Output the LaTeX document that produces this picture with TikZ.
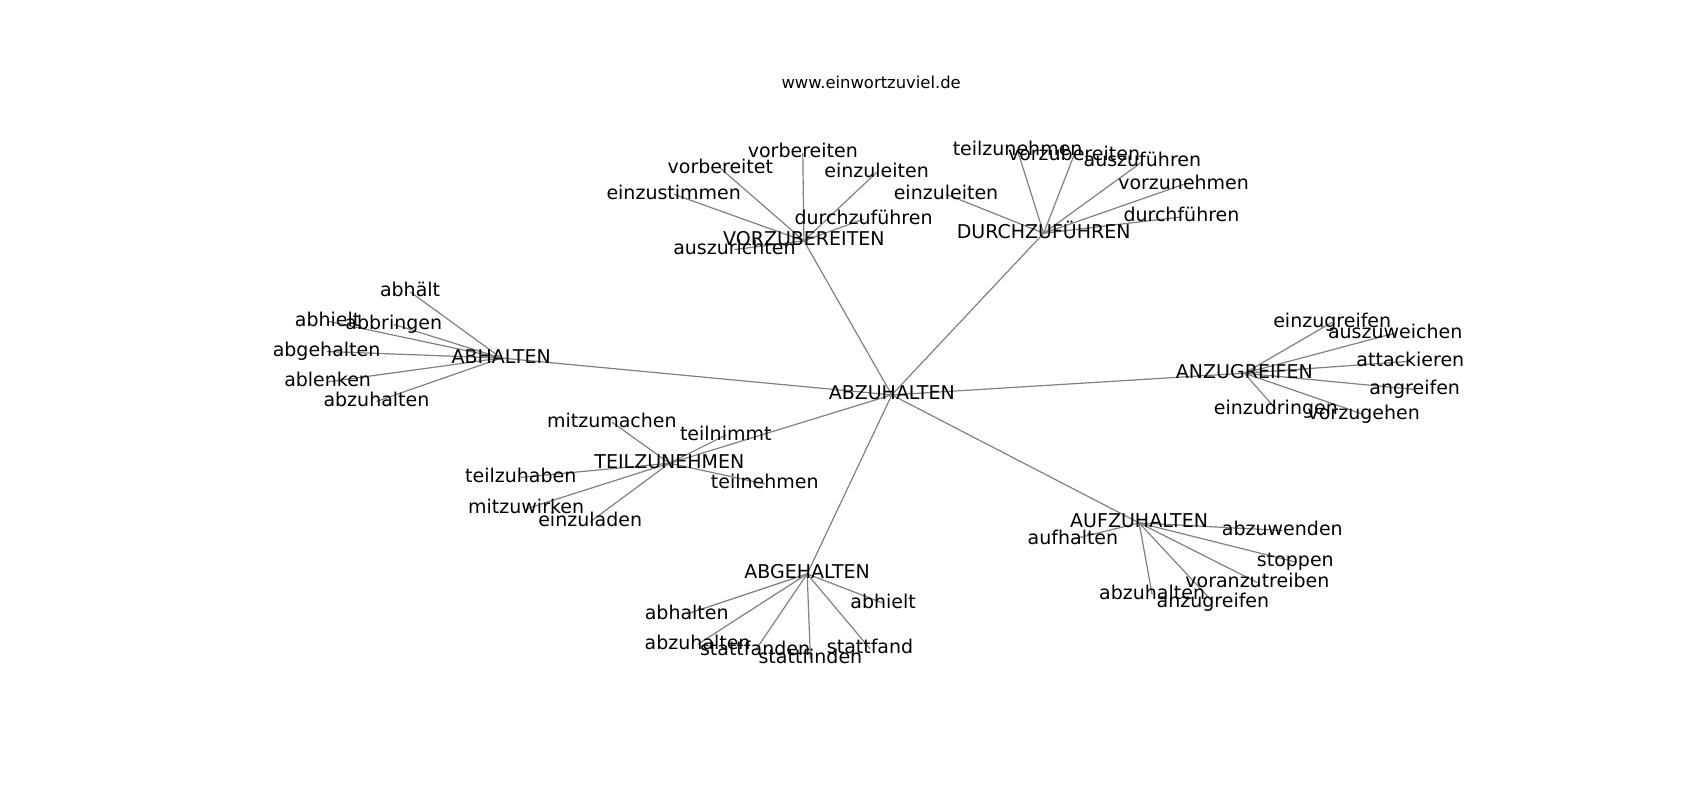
\documentclass[tikz,border=0pt]{standalone}
\usepackage{fontspec}
\setmainfont{DejaVu Sans}
\pgfdeclarelayer{bg}
\pgfsetlayers{bg,main}
\definecolor{edgegray}{RGB}{128,128,128}
\tikzset{
  lbl/.style={inner sep=0pt, anchor=center, text height=1.0em, text depth=0em, font=\fontsize{19}{23}\selectfont},
  ttl/.style={inner sep=0pt, anchor=center, font=\fontsize{16.4}{20}\selectfont},
  edge/.style={draw=edgegray, line width=1.2pt}
}
\begin{document}
\begin{tikzpicture}[x=1.0849pt,y=-1.0849pt]
\useasboundingbox (0,0) rectangle (1567,737.4);
\node[ttl] (title) at (803,76) {www.einwortzuviel.de};
\begin{scope}[shift={(0,2)}]
% hub
\node[lbl] (hub) at (822,362) {ABZUHALTEN};
% VORZUBEREITEN
\node[lbl] (vor) at (741,220) {VORZUBEREITEN};
\node[lbl] (v1) at (740,139) {vorbereiten};
\node[lbl] (v2) at (664,153) {vorbereitet};
\node[lbl] (v3) at (808,157) {einzuleiten};
\node[lbl] (v4) at (621,177) {einzustimmen};
\node[lbl] (v5) at (796,200) {durchzuführen};
\node[lbl] (v6) at (677,228) {auszurichten};
% DURCHZUFUEHREN
\node[lbl] (dur) at (962,213) {DURCHZUFÜHREN};
\node[lbl] (d1) at (938,137) {teilzunehmen};
\node[lbl] (d2) at (990,141) {vorzubereiten};
\node[lbl] (d3) at (1053,147) {auszuführen};
\node[lbl] (d4) at (1091,168) {vorzunehmen};
\node[lbl] (d5) at (1089,198) {durchführen};
\node[lbl] (d6) at (872,177) {einzuleiten};
% ABHALTEN
\node[lbl] (abh) at (462,328) {ABHALTEN};
\node[lbl] (a1) at (378,267) {abhält};
\node[lbl] (a2) at (302,294) {abhielt};
\node[lbl] (a3) at (363,297) {abbringen};
\node[lbl] (a4) at (301,322) {abgehalten};
\node[lbl] (a5) at (302,350) {ablenken};
\node[lbl] (a6) at (347,368) {abzuhalten};
% ANZUGREIFEN
\node[lbl] (anz) at (1147,342) {ANZUGREIFEN};
\node[lbl] (n1) at (1228,295) {einzugreifen};
\node[lbl] (n2) at (1286,305) {auszuweichen};
\node[lbl] (n3) at (1300,331) {attackieren};
\node[lbl] (n4) at (1304,357) {angreifen};
\node[lbl] (n5) at (1176,375) {einzudringen};
\node[lbl] (n6) at (1257,380) {vorzugehen};
% TEILZUNEHMEN
\node[lbl] (tei) at (617,425) {TEILZUNEHMEN};
\node[lbl] (t1) at (564,387) {mitzumachen};
\node[lbl] (t2) at (669,399) {teilnimmt};
\node[lbl] (t3) at (480,438) {teilzuhaben};
\node[lbl] (t4) at (705,444) {teilnehmen};
\node[lbl] (t5) at (485,467) {mitzuwirken};
\node[lbl] (t6) at (544,479) {einzuladen};
% ABGEHALTEN
\node[lbl] (abg) at (744,527) {ABGEHALTEN};
\node[lbl] (g1) at (633,564) {abhalten};
\node[lbl] (g2) at (814,554) {abhielt};
\node[lbl] (g3) at (643,592) {abzuhalten};
\node[lbl] (g4) at (696,598) {stattfanden};
\node[lbl] (g5) at (747,605) {stattfinden};
\node[lbl] (g6) at (802,596) {stattfand};
% AUFZUHALTEN
\node[lbl] (auf) at (1050,480) {AUFZUHALTEN};
\node[lbl] (f1) at (989,495) {aufhalten};
\node[lbl] (f2) at (1182,487) {abzuwenden};
\node[lbl] (f3) at (1194,516) {stoppen};
\node[lbl] (f4) at (1159,535) {voranzutreiben};
\node[lbl] (f5) at (1062,546) {abzuhalten};
\node[lbl] (f6) at (1118,553) {anzugreifen};
\end{scope}
\begin{pgfonlayer}{bg}
\foreach \c in {vor,dur,abh,anz,tei,abg,auf}
  \draw[edge] (hub.center) -- (\c.center);
\foreach \l in {v1,v2,v3,v4,v5,v6} \draw[edge] (vor.center) -- (\l.center);
\foreach \l in {d1,d2,d3,d4,d5,d6} \draw[edge] (dur.center) -- (\l.center);
\foreach \l in {a1,a2,a3,a4,a5,a6} \draw[edge] (abh.center) -- (\l.center);
\foreach \l in {n1,n2,n3,n4,n5,n6} \draw[edge] (anz.center) -- (\l.center);
\foreach \l in {t1,t2,t3,t4,t5,t6} \draw[edge] (tei.center) -- (\l.center);
\foreach \l in {g1,g2,g3,g4,g5,g6} \draw[edge] (abg.center) -- (\l.center);
\foreach \l in {f1,f2,f3,f4,f5,f6} \draw[edge] (auf.center) -- (\l.center);
\end{pgfonlayer}
\end{tikzpicture}
\end{document}
